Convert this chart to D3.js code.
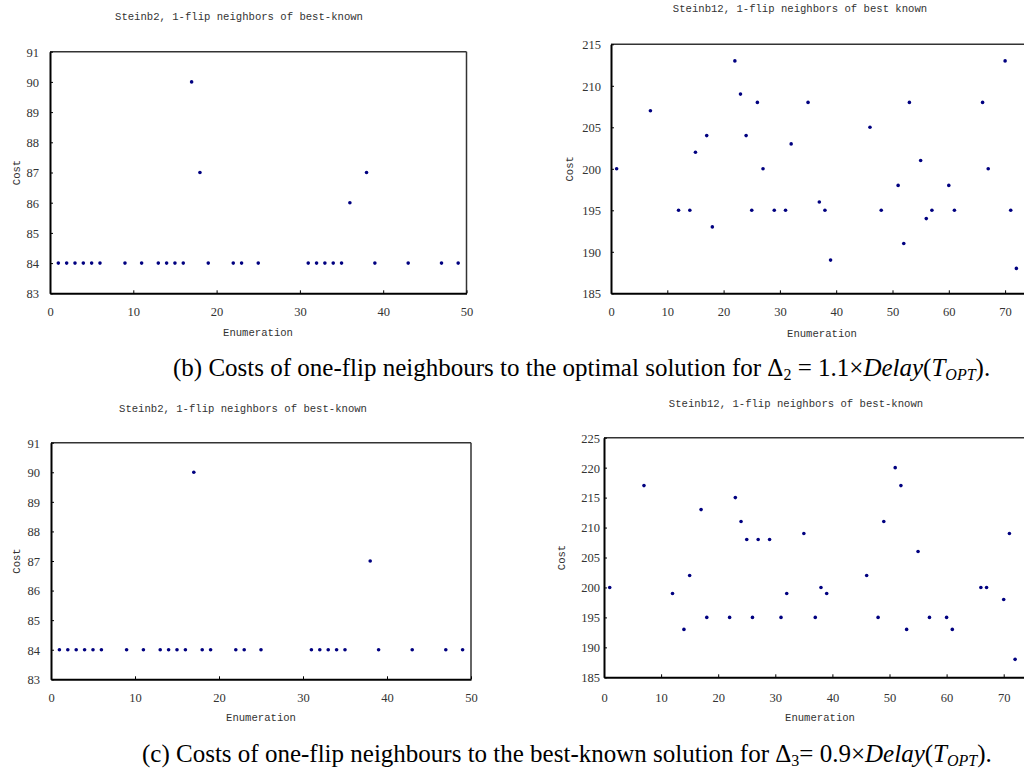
<!DOCTYPE html>
<html><head><meta charset="utf-8">
<script src="https://cdn.jsdelivr.net/npm/d3@7"></script>
<style>body{margin:0;background:#fff}svg{display:block}</style>
</head><body>
<svg id="c" width="1024" height="772"></svg>
<script>
// ---- data ----
const titleSteinb2 = "Steinb2, 1-flip neighbors of best-known";
const titleSteinb12b = "Steinb12, 1-flip neighbors of best known";
const titleSteinb12c = "Steinb12, 1-flip neighbors of best-known";
const yAxisLabel = "Cost";
const xAxisLabel = "Enumeration";

const b2X = [1,2,3,4,5,6,9,11,13,14,15,16,17,18,19,22,23,25,31,32,33,34,35,36,38,39,43,47,49];
const b2Y = [84,84,84,84,84,84,84,84,84,84,84,84,90,87,84,84,84,84,84,84,84,84,84,86,87,84,84,84,84];

const b12X = [1,7,12,14,15,17,18,22,23,24,25,26,27,29,31,32,35,37,38,39,46,48,51,52,53,55,56,57,60,61,66,67,70,71,72];
const b12Y = [200,207,195,195,202,204,193,213,209,204,195,208,200,195,195,203,208,196,195,189,205,195,198,191,208,201,194,195,198,195,208,200,213,195,188];

const c2X = [1,2,3,4,5,6,9,11,13,14,15,16,17,18,19,22,23,25,31,32,33,34,35,38,39,43,47,49];
const c2Y = [84,84,84,84,84,84,84,84,84,84,84,84,90,84,84,84,84,84,84,84,84,84,84,87,84,84,84,84];

const c12X = [1,7,12,14,15,17,18,22,23,24,25,26,27,29,31,32,35,37,38,39,46,48,49,51,52,53,55,57,60,61,66,67,70,71,72];
const c12Y = [200,217,199,193,202,213,195,195,215,211,208,195,208,208,195,199,209,195,200,199,202,195,211,220,217,193,206,195,195,193,200,200,198,209,188];

const smallXDomain = [0,50], smallXTicks = [0,10,20,30,40,50];
const smallYDomain = [83,91], smallYTicks = [83,84,85,86,87,88,89,90,91];
const bigXDomain = [0,80], bigXTicks = [0,10,20,30,40,50,60,70];
const b12YDomain = [185,215], b12YTicks = [185,190,195,200,205,210,215];
const c12YDomain = [185,225], c12YTicks = [185,190,195,200,205,210,215,220,225];

// ---- layout ----
const svg = d3.select("#c");
svg.append("rect").attr("width",1024).attr("height",772).attr("fill","#fff");

const monoFont = "'Liberation Mono', 'DejaVu Sans Mono', monospace";
const serifFont = "'Liberation Serif', 'Times New Roman', serif";

function panel(cfg){
  const g = svg.append("g");
  const x = d3.scaleLinear().domain(cfg.xDomain).range([cfg.left, cfg.left + cfg.xPerUnit*(cfg.xDomain[1]-cfg.xDomain[0])]);
  const y = d3.scaleLinear().domain(cfg.yDomain).range([cfg.bottom, cfg.top]);
  const right = x(cfg.xDomain[1]);
  g.append("line").attr("x1",cfg.left).attr("x2",right).attr("y1",cfg.top).attr("y2",cfg.top).attr("stroke","#333").attr("stroke-width",1.5);
  g.append("line").attr("x1",right).attr("x2",right).attr("y1",cfg.top).attr("y2",cfg.bottom).attr("stroke","#333").attr("stroke-width",1.5);
  const xa = g.append("g").attr("transform",`translate(0,${cfg.bottom})`)
    .call(d3.axisBottom(x).tickValues(cfg.xTicks).tickSizeInner(-3).tickSizeOuter(0).tickPadding(12).tickFormat(d3.format("d")));
  const ya = g.append("g").attr("transform",`translate(${cfg.left},0)`)
    .call(d3.axisLeft(y).tickValues(cfg.yTicks).tickSizeInner(-3).tickSizeOuter(0).tickPadding(cfg.yPad).tickFormat(d3.format("d")));
  [xa,ya].forEach(a=>{
    a.select(".domain").attr("stroke","#000").attr("stroke-width",2);
    a.selectAll(".tick line").attr("stroke","#000").attr("stroke-width",1);
    a.selectAll(".tick text").attr("font-family",serifFont).attr("font-size",12.5).attr("fill","#333");
  });
  xa.selectAll(".tick text").attr("dy",null).attr("dominant-baseline","middle").attr("y",cfg.xTickY - cfg.bottom);
  ya.selectAll(".tick text").attr("dy","0.35em");
  g.append("g").selectAll("circle").data(cfg.xs.map((v,i)=>[v,cfg.ys[i]])).join("circle")
    .attr("cx",d=>x(d[0])).attr("cy",d=>y(d[1])).attr("r",1.8).attr("fill","#000080");
  g.append("text").attr("x",cfg.titleX).attr("y",cfg.titleY).attr("text-anchor","middle").attr("dominant-baseline","middle")
    .attr("font-family",monoFont).attr("font-size",10.6).attr("fill","#333").text(cfg.title);
  g.append("text").attr("transform",`translate(${cfg.costX},${(cfg.top+cfg.bottom)/2}) rotate(-90)`).attr("text-anchor","middle").attr("dominant-baseline","middle")
    .attr("font-family",monoFont).attr("font-size",10.6).attr("fill","#333").text(yAxisLabel);
  g.append("text").attr("x",cfg.enumX).attr("y",cfg.enumY).attr("text-anchor","middle").attr("dominant-baseline","middle")
    .attr("font-family",monoFont).attr("font-size",10.6).attr("fill","#333").text(xAxisLabel);
}

panel({xs:b2X, ys:b2Y, xDomain:smallXDomain, xTicks:smallXTicks, yDomain:smallYDomain, yTicks:smallYTicks,
  left:50, xPerUnit:8.33, top:51.7, bottom:293.3, yPad:11, xTickY:313, title:titleSteinb2, titleX:239, titleY:17, costX:17, enumX:258, enumY:333});
panel({xs:b12X, ys:b12Y, xDomain:bigXDomain, xTicks:bigXTicks, yDomain:b12YDomain, yTicks:b12YTicks,
  left:611, xPerUnit:5.63, top:44.3, bottom:293.3, yPad:10, xTickY:313, title:titleSteinb12b, titleX:800, titleY:9.5, costX:570, enumX:822, enumY:334});
panel({xs:c2X, ys:c2Y, xDomain:smallXDomain, xTicks:smallXTicks, yDomain:smallYDomain, yTicks:smallYTicks,
  left:51, xPerUnit:8.4, top:442.7, bottom:679.3, yPad:11, xTickY:699, title:titleSteinb2, titleX:243, titleY:409, costX:17, enumX:261, enumY:718});
panel({xs:c12X, ys:c12Y, xDomain:bigXDomain, xTicks:bigXTicks, yDomain:c12YDomain, yTicks:c12YTicks,
  left:604, xPerUnit:5.71, top:437.7, bottom:677.3, yPad:4, xTickY:699, title:titleSteinb12c, titleX:796, titleY:404, costX:562, enumX:820, enumY:718});

// captions
function caption(x, yPos, label, mid, delta, factor){
  const t = svg.append("text").attr("x",x).attr("y",yPos).attr("dominant-baseline","middle")
    .attr("font-family",serifFont).attr("font-size",25).attr("fill","#000");
  t.append("tspan").text(label + " Costs of one-flip neighbours to the " + mid + " solution for Δ");
  t.append("tspan").attr("font-size",16).attr("dy",6).text(delta);
  t.append("tspan").attr("dy",-6).text(factor + "×");
  t.append("tspan").attr("font-style","italic").text("Delay");
  t.append("tspan").text("(");
  t.append("tspan").attr("font-style","italic").text("T");
  t.append("tspan").attr("font-style","italic").attr("font-size",16).attr("dy",6).text("OPT");
  t.append("tspan").attr("dy",-6).text(").");
}
caption(173, 370, "(b)", "optimal", "2", " = 1.1");
caption(142, 756, "(c)", "best-known", "3", "= 0.9");
</script>
</body></html>
